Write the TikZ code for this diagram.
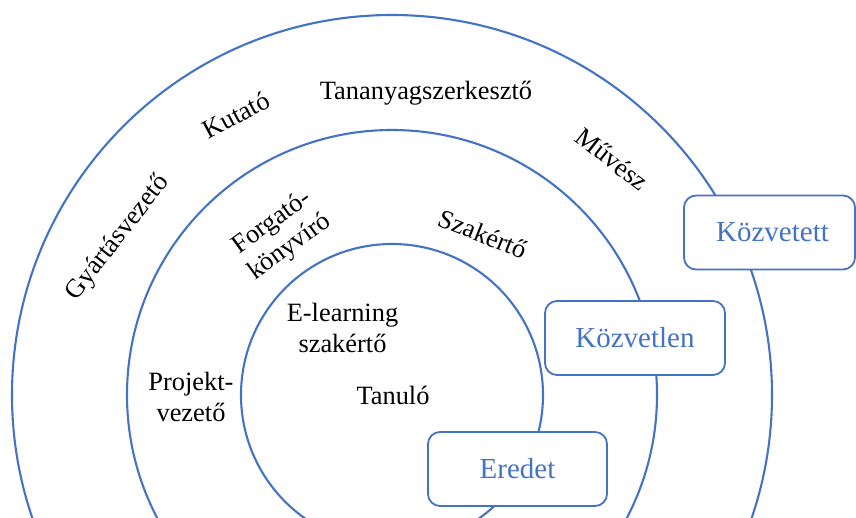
\documentclass[tikz,border=0pt]{standalone}
\usepackage{fontspec}
\setmainfont{Liberation Serif}
\definecolor{ringblue}{HTML}{4472C4}
\begin{document}
\begin{tikzpicture}[x=1pt,y=-1pt,
  ring/.style={draw=ringblue, line width=2.1pt},
  role/.style={font=\fontsize{26.4}{30.5}\selectfont, align=center, inner sep=0pt},
  levelbox/.style={draw=ringblue, fill=white, line width=1.8pt,
    rounded corners=12pt, text=ringblue, inner sep=0pt,
    font=\fontsize{29}{34}\selectfont, minimum height=74pt}]
\useasboundingbox (0,0) rectangle (856,518);
\clip (0,0) rectangle (856,518);

% three concentric rings
\coordinate (c) at (392,395);
\draw[ring] (c) circle[radius=380];
\draw[ring] (c) circle[radius=265];
\draw[ring] (c) circle[radius=151];

% outer ring roles
\node[role, anchor=base] (tananyag) at (426,100) {Tananyagszerkesztő};
\node[role, rotate=28] (kutato) at (236,115) {Kutató};
\node[role, rotate=52] (gyartas) at (118,238) {Gyártásvezető};
\node[role, rotate=-38] (muvesz) at (612,159) {Művész};

% middle ring roles
\node[role, rotate=36] (forgato) at (281,235) {Forgató-\\könyvíró};
\node[role, rotate=-22] (szakerto) at (483,234) {Szakértő};
\node[role] (projekt) at (191,397) {Projekt-\\vezető};

% inner ring roles
\node[role] (elearning) at (342.5,328) {E-learning\\szakértő};
\node[role, anchor=base] (tanulo) at (393,404) {Tanuló};

% ring labels
\node[levelbox, minimum width=171pt] (kozvetett) at (769.5,232.5) {\hspace*{6pt}Közvetett};
\node[levelbox, minimum width=180pt] (kozvetlen) at (635,338) {Közvetlen};
\node[levelbox, minimum width=179pt] (eredet) at (517.5,469) {Eredet};
\end{tikzpicture}
\end{document}
